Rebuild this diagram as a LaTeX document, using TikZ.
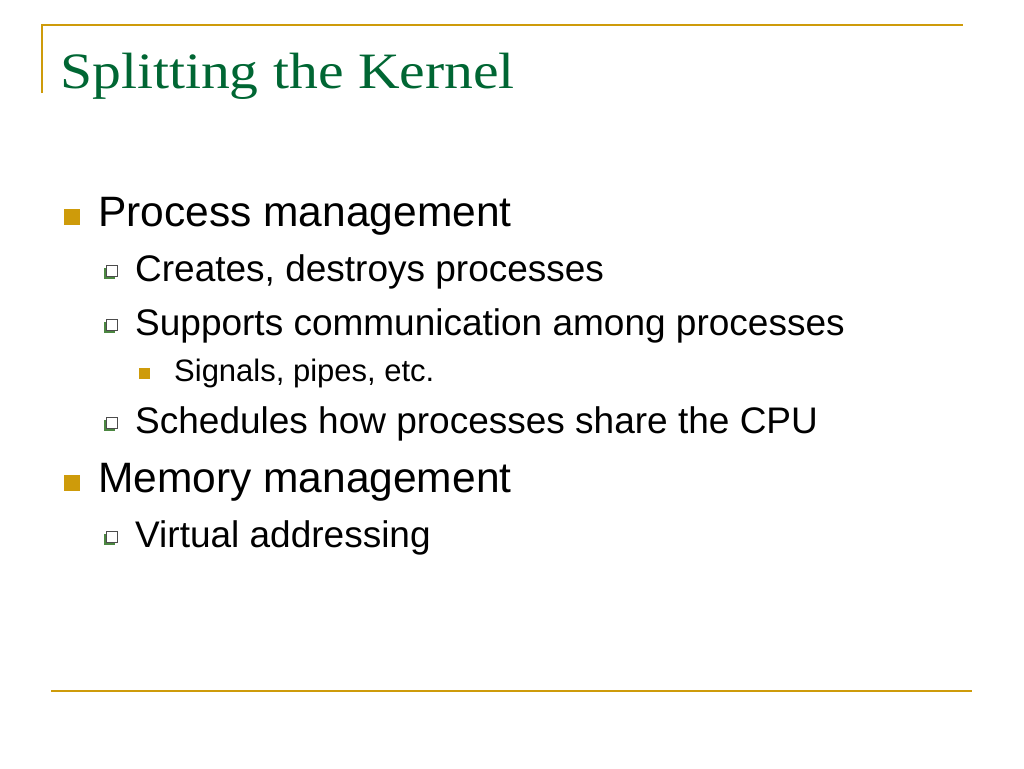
\documentclass[tikz,border=0pt]{standalone}
\usepackage{fontspec}
\setmainfont{Liberation Serif}
\setsansfont{Liberation Sans}
\usetikzlibrary{shadows}
\definecolor{oro}{RGB}{206,155,10}
\definecolor{verde}{RGB}{0,102,51}
\definecolor{sombra}{RGB}{75,135,65}

\begin{document}
\begin{tikzpicture}[x=1pt, y=-1pt,
    nivelA/.style={anchor=base west, inner sep=0pt, font=\sffamily\fontsize{42.5}{50}\selectfont},
    nivelB/.style={anchor=base west, inner sep=0pt, font=\sffamily\fontsize{37}{44}\selectfont},
    nivelC/.style={anchor=base west, inner sep=0pt, font=\sffamily\fontsize{31}{37}\selectfont},
    balaA/.style={fill=oro, minimum size=16pt, inner sep=0pt},
    balaB/.style={draw=black!70, fill=white, line width=0.9pt, minimum size=11.5pt, inner sep=0pt,
      general shadow={fill=sombra, shadow xshift=-2.5pt, shadow yshift=-2.5pt}},
    balaC/.style={fill=oro, minimum size=11pt, inner sep=0pt}]
  \useasboundingbox (0,0) rectangle (1024,768);

  % Marco
  \draw[oro, line width=2pt] (42,93) -- (42,25) -- (963,25);
  \draw[oro, line width=2pt] (51,691) -- (972,691);

  % Titulo
  \node[anchor=base west, inner sep=0pt, text=verde, font=\fontsize{51}{60}\selectfont] (titulo) at (60,88) {\scalebox{1.13}[1]{Splitting the Kernel}};

  % Vinetas
  \node[balaA] (b1) at (72,217) {};
  \node[balaB] (b11) at (112,271) {};
  \node[balaB] (b12) at (112,325) {};
  \node[balaC] (b121) at (144,373) {};
  \node[balaB] (b13) at (112,423) {};
  \node[balaA] (b2) at (72,483) {};
  \node[balaB] (b21) at (112,537) {};

  % Texto
  \node[nivelA] (t1) at (98,226) {Process management};
  \node[nivelB] (t11) at (135,281) {Creates, destroys processes};
  \node[nivelB] (t12) at (135,335) {Supports communication among processes};
  \node[nivelC] (t121) at (174,381) {Signals, pipes, etc.};
  \node[nivelB] (t13) at (135,433) {Schedules how processes share the CPU};
  \node[nivelA] (t2) at (98,492) {Memory management};
  \node[nivelB] (t21) at (135,547) {Virtual addressing};
\end{tikzpicture}
\end{document}
